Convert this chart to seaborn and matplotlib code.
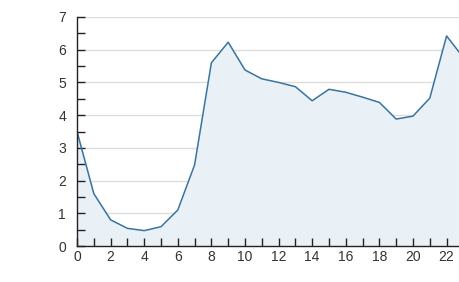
import matplotlib
matplotlib.use("Agg")
import matplotlib.pyplot as plt
import seaborn as sns
import pandas as pd
from matplotlib.ticker import MultipleLocator

hours = list(range(24))
values = [3.5, 1.6, 0.8, 0.54, 0.47, 0.59, 1.1, 2.48, 5.6, 6.23, 5.38, 5.11, 5.0, 4.87,
          4.44, 4.79, 4.7, 4.55, 4.39, 3.88, 3.97, 4.52, 6.42, 5.76]
x_ticks = list(range(0, 24, 2))
y_ticks = list(range(0, 8))

df = pd.DataFrame({"hour": hours, "value": values})

sns.set_theme(style="white")
plt.rcParams['font.family'] = ['Liberation Sans', 'DejaVu Sans']

fig = plt.figure(figsize=(4.59, 2.82), dpi=100)
ax = fig.add_axes([77/459, 1 - 246/282, 1 - 77/459, (246 - 17)/282])

line_color = "#3a74a0"
for yv in y_ticks[1:]:
    ax.axhline(yv, color="#dddddd", linewidth=1, zorder=0.5)
ax.fill_between(df["hour"], df["value"], 0, color="#e9f1f6", zorder=1)
sns.lineplot(data=df, x="hour", y="value", ax=ax, color=line_color, linewidth=1.1, zorder=3)

ax.set_xlim(0, 22.74)
ax.set_ylim(0, 7)
ax.set_xticks(x_ticks)
ax.set_yticks(y_ticks)
ax.xaxis.set_minor_locator(MultipleLocator(1))
ax.yaxis.set_minor_locator(MultipleLocator(0.5))
ax.grid(False)
ax.set_axisbelow(False)
ax.set_xlabel("")
ax.set_ylabel("")

for s in ["top", "right"]:
    ax.spines[s].set_visible(False)
for s in ["left", "bottom"]:
    ax.spines[s].set_color("#222222")
    ax.spines[s].set_linewidth(1.0)
    ax.spines[s].set_zorder(4)

ax.tick_params(axis="both", which="both", bottom=True, left=True, top=False, right=False)
ax.tick_params(axis="both", which="major", direction="in", length=6, width=1,
               color="#222222", labelsize=10, labelcolor="#333333", pad=8)
ax.tick_params(axis="both", which="minor", direction="in", length=6, width=1, color="#222222")
ax.tick_params(axis="x", which="major", pad=3)

fig.savefig("out.png", dpi=100)
